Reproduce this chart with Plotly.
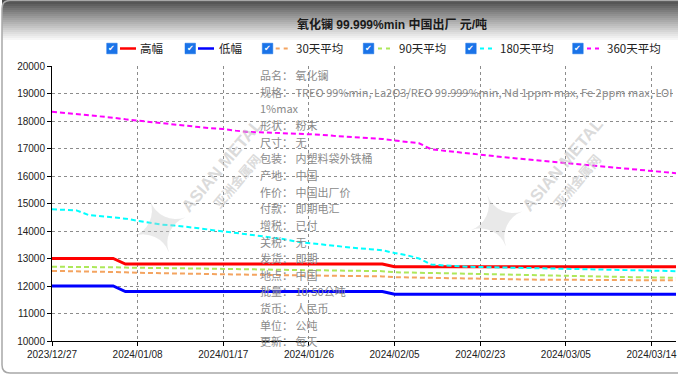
import plotly.graph_objects as go

# ---------------- data ----------------
dates = ["2023/12/27","2023/12/28","2023/12/29","2024/01/02","2024/01/03","2024/01/04","2024/01/05",
         "2024/01/08","2024/01/09","2024/01/10","2024/01/11","2024/01/12","2024/01/15","2024/01/16",
         "2024/01/17","2024/01/18","2024/01/19","2024/01/22","2024/01/23","2024/01/24","2024/01/25",
         "2024/01/26","2024/01/29","2024/01/30","2024/01/31","2024/02/01","2024/02/02","2024/02/04",
         "2024/02/05","2024/02/06","2024/02/07","2024/02/19","2024/02/20","2024/02/21","2024/02/22",
         "2024/02/23","2024/02/26","2024/02/27","2024/02/28","2024/02/29","2024/03/01","2024/03/04",
         "2024/03/05","2024/03/06","2024/03/07","2024/03/08","2024/03/11","2024/03/12","2024/03/13",
         "2024/03/14","2024/03/15","2024/03/18"]

tick_labels = ["2023/12/27","2024/01/08","2024/01/17","2024/01/26","2024/02/05","2024/02/23","2024/03/05","2024/03/14"]

high = [13000]*6 + [12800]*22 + [12700]*24
low = [12000]*6 + [11800]*22 + [11700]*24

avg30 = [12550,12545,12540,12530,12520,12510,12500,12480,12470,12460,12455,12450,12440,12430,12420,
         12415,12410,12405,12400,12395,12390,12385,12380,12375,12370,12365,12360,12350,12320,12310,
         12300,12290,12280,12270,12260,12255,12250,12245,12240,12235,12230,12225,12220,12220,12220,
         12215,12215,12210,12210,12210,12210,12210]

avg90 = [12700,12700,12695,12690,12685,12680,12670,12660,12655,12650,12645,12640,12635,12630,12620,
         12615,12610,12600,12595,12590,12580,12575,12570,12565,12560,12555,12550,12540,12500,12490,
         12480,12460,12450,12440,12430,12420,12410,12400,12395,12390,12380,12375,12370,12360,12350,
         12340,12330,12325,12320,12310,12305,12300]

avg180 = [14790,14770,14750,14580,14530,14480,14450,14370,14300,14230,14200,14160,14100,14040,13990,
          13940,13890,13820,13760,13700,13610,13560,13510,13450,13410,13370,13340,13300,13200,13120,
          13000,12780,12750,12720,12700,12690,12680,12670,12660,12650,12640,12630,12620,12610,12600,
          12590,12580,12570,12560,12560,12550,12540]

avg360 = [18340,18300,18250,18220,18180,18120,18060,18010,17960,17910,17870,17820,17780,17740,17710,
          17650,17600,17590,17570,17560,17540,17530,17500,17460,17430,17400,17370,17350,17290,17240,
          17190,16970,16920,16860,16810,16760,16720,16680,16640,16600,16560,16520,16470,16440,16400,
          16360,16320,16270,16230,16180,16140,16100]

series_names = ["高幅", "低幅", "30天平均", "90天平均", "180天平均", "360天平均"]

title_text = "氧化镧 99.999%min 中国出厂 元/吨"

info_lines = ["品名： 氧化镧",
              "规格： TREO 99%min, La2O3/REO 99.999%min, Nd 1ppm max, Fe 2ppm max, LOI",
              "1%max",
              "形状： 粉末",
              "尺寸： 无",
              "包装： 内塑料袋外铁桶",
              "产地： 中国",
              "作价： 中国出厂价",
              "付款： 即期电汇",
              "增税： 已付",
              "关税： 无",
              "发货： 即期",
              "地点： 中国",
              "批量： 10-50公吨",
              "货币： 人民币",
              "单位： 公吨",
              "更新： 每天"]

# ---------------- styles ----------------
W, H = 678, 375
L, R, T, B = 52, 2, 66, 34
PW, PH = W - L - R, H - T - B

def px(x):
    return (x - L) / PW

def py(y):
    return (H - B - y) / PH

colors = ["#FF0000", "#0000FF", "#F4A460", "#ADE85A", "#00FFFF", "#FF00FF"]
series = [high, low, avg30, avg90, avg180, avg360]
dashed = [False, False, True, True, True, True]

fig = go.Figure()
for name, vals, col, d in zip(series_names, series, colors, dashed):
    fig.add_trace(go.Scatter(
        x=dates, y=vals, name=name, mode="lines",
        line=dict(color=col, width=2 if d else 3, dash="5px,3px" if d else "solid"),
        showlegend=False, hoverinfo="skip"))

shapes = []
annotations = []

# header gradient
top_c, bot_y = 0x4a, 42
n = 21
for i in range(n):
    y0 = i * bot_y / n
    y1 = (i + 1) * bot_y / n
    v = int(top_c + (255 - top_c) * (i / (n - 1)) ** 0.9)
    c = "#%02x%02x%02x" % (v, v, v)
    shapes.append(dict(type="rect", xref="paper", yref="paper", layer="below",
                       x0=px(2), x1=px(W + 5), y0=py(y1 + 0.5), y1=py(y0),
                       fillcolor=c, line=dict(width=0)))

# outer frame (rounded)
r = 8
fx0, fx1, fy0, fy1 = 2, W + 10, 0.5, 373
path = (f"M {px(fx0+r)},{py(fy0)} L {px(fx1)},{py(fy0)} L {px(fx1)},{py(fy1)} "
        f"L {px(fx0+r)},{py(fy1)} Q {px(fx0)},{py(fy1)} {px(fx0)},{py(fy1-r)} "
        f"L {px(fx0)},{py(fy0+r)} Q {px(fx0)},{py(fy0)} {px(fx0+r)},{py(fy0)} Z")
shapes.append(dict(type="path", xref="paper", yref="paper", path=path, layer="above",
                   line=dict(color="#a8a8a8", width=1.5), fillcolor="rgba(0,0,0,0)"))

# title
annotations.append(dict(text=f"<b>{title_text}</b>", x=px(392), y=py(25), xref="paper", yref="paper",
                        xanchor="center", yanchor="middle", showarrow=False,
                        font=dict(family="Liberation Sans, Noto Sans CJK SC", size=12, color="#1a1a1a")))

# custom legend
leg_cb = [106.7, 185, 262.3, 363.3, 465.7, 572.7]
leg_line = [(120, 136), (198, 214), (275.7, 290), (378, 392), (480, 494), (587, 601.7)]
leg_text = [138.3, 216.7, 294.3, 396.7, 498.3, 605]
ly = 48.5
for i, name in enumerate(series_names):
    cx = leg_cb[i]
    shapes.append(dict(type="rect", xref="paper", yref="paper", x0=px(cx), x1=px(cx + 10.5),
                       y0=py(ly + 5.3), y1=py(ly - 5.3), fillcolor="#1a73e8",
                       line=dict(color="#1a73e8", width=0.5)))
    annotations.append(dict(text="✔", x=px(cx + 5.25), y=py(ly), xref="paper", yref="paper",
                            xanchor="center", yanchor="middle", showarrow=False,
                            font=dict(family="DejaVu Sans", size=8, color="white")))
    x0, x1 = leg_line[i]
    shapes.append(dict(type="line", xref="paper", yref="paper", x0=px(x0), x1=px(x1),
                       y0=py(ly), y1=py(ly),
                       line=dict(color=colors[i], width=2.5 if not dashed[i] else 2,
                                 dash="4px,4px" if dashed[i] else "solid")))
    annotations.append(dict(text=name, x=px(leg_text[i]), y=py(ly), xref="paper", yref="paper",
                            xanchor="left", yanchor="middle", showarrow=False,
                            font=dict(family="Noto Sans CJK SC", size=11.5, color="#222")))

# watermarks
for (wx, wy), (sx, sy) in [((222, 165), (160, 228)), ((562, 165), (497, 222))]:
    annotations.append(dict(text="✦", x=px(sx), y=py(sy), xref="paper", yref="paper",
                            xanchor="center", yanchor="middle", showarrow=False, textangle=-20,
                            font=dict(family="DejaVu Sans", size=72, color="rgba(200,200,200,0.4)")))
    annotations.append(dict(text="<b>ASIAN METAL</b>", x=px(wx), y=py(wy), xref="paper", yref="paper",
                            xanchor="center", yanchor="middle", showarrow=False, textangle=-50,
                            font=dict(family="Liberation Sans", size=17, color="rgba(195,195,195,0.6)")))
    annotations.append(dict(text="<b>亚洲金属网</b>", x=px(wx + 14), y=py(wy + 16), xref="paper", yref="paper",
                            xanchor="center", yanchor="middle", showarrow=False, textangle=-50,
                            font=dict(family="Noto Sans CJK SC", size=13, color="rgba(195,195,195,0.6)")))

# product info text
for i, line in enumerate(info_lines):
    annotations.append(dict(text=line, x=px(258), y=py(75 + 16.65 * i), xref="paper", yref="paper",
                            xanchor="left", yanchor="middle", showarrow=False,
                            font=dict(family="Noto Sans CJK SC", size=11, color="#8a8a8a")))

fig.update_layout(
    width=W, height=H,
    margin=dict(l=L, r=R, t=T, b=B, autoexpand=False),
    paper_bgcolor="white", plot_bgcolor="rgba(0,0,0,0)",
    shapes=shapes, annotations=annotations, showlegend=False,
    xaxis=dict(type="category", range=[0, len(dates) - 1], tickmode="array",
               tickvals=tick_labels, ticktext=tick_labels,
               showgrid=True, gridcolor="#8c8c8c", griddash="dot", gridwidth=1,
               showline=True, linecolor="black", linewidth=1,
               ticks="outside", ticklen=4, tickcolor="black",
               tickfont=dict(family="Liberation Sans", size=10, color="#222"),
               zeroline=False, automargin=False),
    yaxis=dict(range=[10000, 20000], dtick=1000, tick0=10000, tickformat="d",
               showgrid=True, gridcolor="#8c8c8c", griddash="dot", gridwidth=1,
               showline=True, linecolor="black", linewidth=1,
               ticks="outside", ticklen=4, tickcolor="black",
               tickfont=dict(family="Liberation Sans", size=10, color="#222"),
               zeroline=False, automargin=False),
)

fig.write_html("out.html", config={"displayModeBar": False},
               post_script="document.body.style.margin='0';document.body.style.overflow='hidden';")
